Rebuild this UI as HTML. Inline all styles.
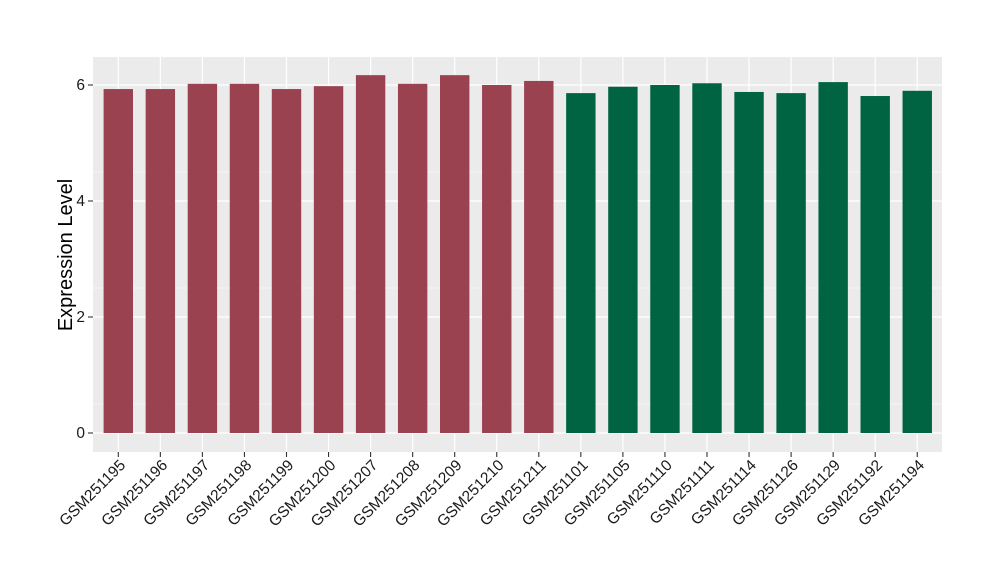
<!DOCTYPE html><html><head><style>body{margin:0;background:#fff}</style></head><body>
<svg width="1000" height="580" xmlns="http://www.w3.org/2000/svg" font-family="Liberation Sans, sans-serif">
<rect x="93" y="57" width="849" height="395" fill="#EBEBEB"/>
<g stroke="#fff" stroke-width="0.6">
<line x1="93" x2="942" y1="404" y2="404"/><line x1="93" x2="942" y1="288" y2="288"/><line x1="93" x2="942" y1="172" y2="172"/><line x1="93" x2="942" y1="56" y2="56"/>
</g>
<g stroke="#fff" stroke-width="1.2" id="g"></g>
<g id="b"></g>
<g font-size="15.5" fill="#1a1a1a" text-anchor="end">
<text x="85" y="438">0</text><text x="85" y="322">2</text><text x="85" y="206">4</text><text x="85" y="90">6</text>
</g>
<g stroke="#333" stroke-width="1.1"><line x1="88" x2="93" y1="433" y2="433"/><line x1="88" x2="93" y1="317" y2="317"/><line x1="88" x2="93" y1="201" y2="201"/><line x1="88" x2="93" y1="85" y2="85"/></g>
<text transform="translate(72,255) rotate(-90)" text-anchor="middle" font-size="20">Expression Level</text>
<g id="l" font-size="15.5" fill="#1a1a1a"></g>
<script>
var v=[5.93,5.93,6.02,6.02,5.93,5.98,6.17,6.02,6.17,6.0,6.07,5.86,5.97,6.0,6.03,5.88,5.86,6.05,5.81,5.9];
var n=["GSM251195","GSM251196","GSM251197","GSM251198","GSM251199","GSM251200","GSM251207","GSM251208","GSM251209","GSM251210","GSM251211","GSM251101","GSM251105","GSM251110","GSM251111","GSM251114","GSM251126","GSM251129","GSM251192","GSM251194"];
var ns="http://www.w3.org/2000/svg",g=document.getElementById('g'),b=document.getElementById('b'),l=document.getElementById('l'),a=document.querySelector('svg');
function e(t,p,par){var x=document.createElementNS(ns,t);for(var k in p)x.setAttribute(k,p[k]);par.appendChild(x);return x;}
e('line',{x1:93,x2:942,y1:433,y2:433},g);e('line',{x1:93,x2:942,y1:317,y2:317},g);e('line',{x1:93,x2:942,y1:201,y2:201},g);e('line',{x1:93,x2:942,y1:85,y2:85},g);
for(var i=0;i<20;i++){var c=118.3+i*42.05;e('line',{x1:c,x2:c,y1:57,y2:452},g);
var h=v[i]*58;e('rect',{x:c-14.7,y:433-h,width:29.4,height:h,fill:i<11?'#9A4250':'#006443'},b);
e('line',{x1:c,x2:c,y1:452,y2:457,stroke:'#333','stroke-width':1.1},a);
var t=e('text',{transform:'translate('+(c+8)+',466) rotate(-45)','text-anchor':'end'},l);t.textContent=n[i];}
</script>
</svg></body></html>
